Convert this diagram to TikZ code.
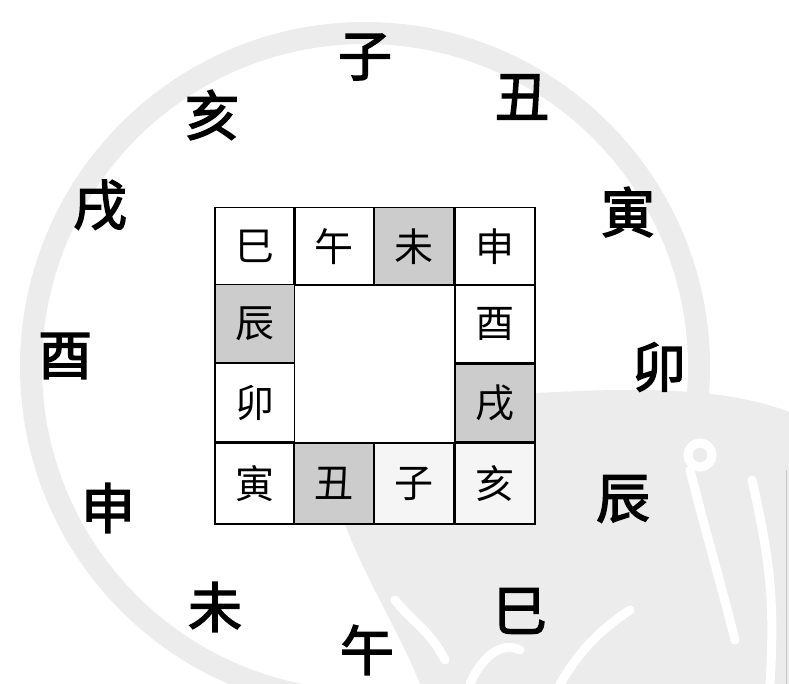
\documentclass[tikz,border=0pt]{standalone}
\usepackage{fontspec}
\newfontfamily\cjk{Noto Sans CJK SC}
\newfontfamily\cjkb{Noto Sans CJK SC}[FakeBold=2.6]
\definecolor{wm}{gray}{0.925}
\definecolor{shade}{gray}{0.80}
\definecolor{faint}{gray}{0.96}
\begin{document}
\begin{tikzpicture}[x=1pt,y=-1pt,
  outer/.style={font=\cjkb\fontsize{54}{54}\selectfont, inner sep=0pt},
  cell/.style={draw=black, line width=1.8pt, minimum width=80pt, minimum height=78pt,
    inner sep=0pt, font=\cjk\fontsize{39}{39}\selectfont},
  white stroke/.style={draw=white, line width=9pt, line cap=round}]
\useasboundingbox (0,0) rectangle (789,684);
\fill[white] (0,0) rectangle (789,684);
% watermark
\fill[wm] (330,470) .. controls (345,430) and (420,400) .. (520,394)
  .. controls (620,388) and (720,385) .. (789,412) -- (789,684) -- (420,684)
  .. controls (395,620) and (340,540) .. (330,470) -- cycle;
\draw[wm, line width=22pt] (365,367) circle (334);
\draw[white stroke] (690,470) .. controls (705,530) and (720,580) .. (735,640);
\draw[white stroke] (752,480) .. controls (770,560) and (775,600) .. (770,684);
\draw[white stroke] (700,455) circle (12);
\draw[white stroke] (560,684) .. controls (580,650) and (600,630) .. (630,610);
\draw[white stroke] (470,684) .. controls (480,660) and (500,640) .. (520,650);
\draw[white stroke] (395,600) .. controls (410,620) and (430,630) .. (445,660);
\draw[gray!45, line width=1pt] (786,470) -- (786,684);
% grid
\node[cell] (si)   at (255,246.5) {巳};
\node[cell] (wu)   at (334,246.5) {午};
\node[cell, fill=shade] (wei)  at (414,246.5) {未};
\node[cell] (shen) at (495,246.5) {申};
\node[cell, fill=shade] (chen) at (255,323.5) {辰};
\node[cell] (you)  at (495,324) {酉};
\node[cell] (mao)  at (255,402.5) {卯};
\node[cell, fill=shade] (xu)   at (495,403) {戌};
\node[cell, minimum height=81pt] (yin)  at (255,483.5) {寅};
\node[cell, minimum height=81pt, fill=shade] (chou) at (334,483.5) {丑};
\node[cell, minimum height=81pt, fill=faint] (zi)   at (414,483.5) {子};
\node[cell, minimum height=81pt, fill=faint] (hai)  at (495,483.5) {亥};
\node[draw=black, line width=1.8pt, fill=white, minimum width=160pt, minimum height=158pt, inner sep=0pt] (centre) at (374.5,364) {};
% outer ring of branches
\node[outer] (oZi)   at (365,57)  {子};
\node[outer] (oChou) at (522,97)  {丑};
\node[outer] (oYin)  at (628,212) {寅};
\node[outer] (oMao)  at (659,367) {卯};
\node[outer] (oChen) at (623,499) {辰};
\node[outer] (oSi)   at (520,611) {巳};
\node[outer] (oWu)   at (367,650) {午};
\node[outer] (oWei)  at (215,607) {未};
\node[outer] (oShen) at (108,508) {申};
\node[outer] (oYou)  at (65,356)  {酉};
\node[outer] (oXu)   at (100,205) {戌};
\node[outer] (oHai)  at (212,115) {亥};
\end{tikzpicture}
\end{document}
